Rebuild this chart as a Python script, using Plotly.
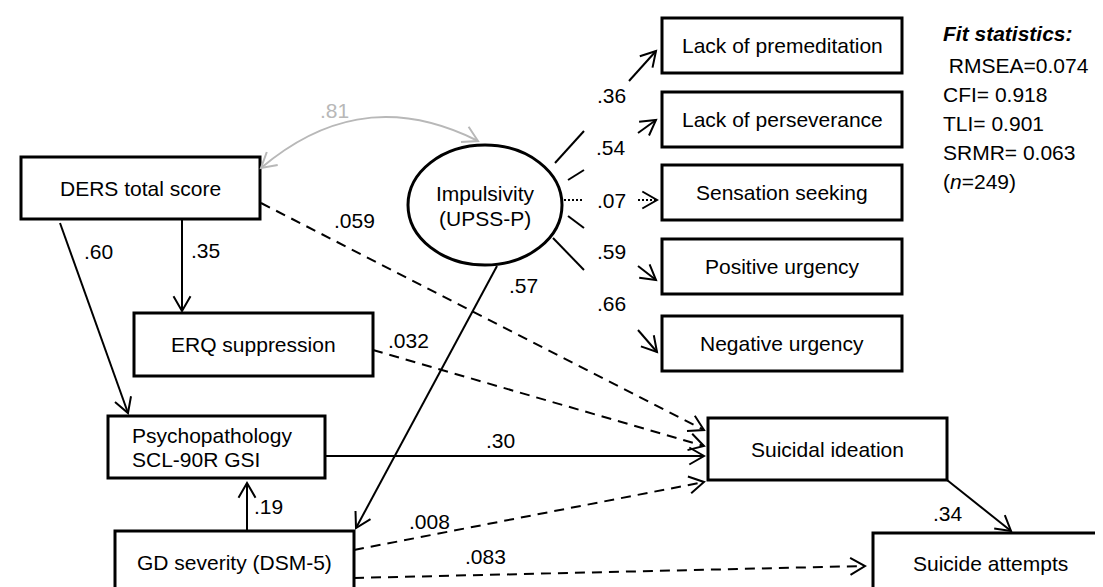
import math
import plotly.graph_objects as go

W, H = 1103, 587

# ---------------- data ----------------
observed_nodes = ["DERS total score", "ERQ suppression", "Psychopathology\nSCL-90R GSI",
                  "GD severity (DSM-5)", "Suicidal ideation", "Suicide attempts"]
latent_node = "Impulsivity\n(UPSS-P)"
indicators = ["Lack of premeditation", "Lack of perseverance", "Sensation seeking",
              "Positive urgency", "Negative urgency"]
loadings = [".36", ".54", ".07", ".59", ".66"]
loading_significant = [True, True, False, True, True]
# structural paths: (from, to, coefficient, significant)
path_from = ["DERS total score", "DERS total score", "DERS total score", "ERQ suppression",
             "Psychopathology\nSCL-90R GSI", "GD severity (DSM-5)", "Impulsivity\n(UPSS-P)",
             "GD severity (DSM-5)", "GD severity (DSM-5)", "Suicidal ideation"]
path_to = ["ERQ suppression", "Psychopathology\nSCL-90R GSI", "Suicidal ideation", "Suicidal ideation",
           "Suicidal ideation", "Psychopathology\nSCL-90R GSI", "GD severity (DSM-5)",
           "Suicidal ideation", "Suicide attempts", "Suicide attempts"]
path_coef = [".35", ".60", ".059", ".032", ".30", ".19", ".57", ".008", ".083", ".34"]
path_significant = [True, True, False, False, True, True, True, False, False, True]
correlation_coef = ".81"
fit_title = "Fit statistics:"
fit_lines = [" RMSEA=0.074", "CFI= 0.918", "TLI= 0.901", "SRMR= 0.063", "(<i>n</i>=249)"]

# ---------------- layout geometry (pixels) ----------------
box_geom = {
    "DERS total score": (13, 149, 252, 211),
    "ERQ suppression": (126, 305, 365, 368),
    "Psychopathology\nSCL-90R GSI": (100, 408, 317, 470),
    "GD severity (DSM-5)": (107, 523, 346, 585),
    "Suicidal ideation": (700, 410, 939, 472),
    "Suicide attempts": (865, 525, 1100, 585),
}
ind_x = (654, 894)
ind_y = [(10, 65), (84, 139), (157, 212), (231, 286), (308, 363)]
ellipse = (400, 137, 554, 257)

path_geom = [
    ((174, 212), (174, 303), (197, 242)),
    ((52, 215), (120, 405), (90, 243)),
    ((253, 195), (696, 422), (346, 212)),
    ((365, 342), (696, 438), (400, 332)),
    ((317, 448), (696, 448), (492, 432)),
    ((239, 522), (239, 475), (260, 498)),
    ((489, 258), (348, 520), (515, 277)),
    ((346, 542), (696, 474), (421, 513)),
    ((346, 570), (857, 558), (477, 548)),
    ((939, 472), (1003, 523), (940, 505)),
]
# loading stubs near latent variable and arrows near indicator boxes
stub_geom = [((547, 155), (576, 123)), ((560, 172), (576, 162)), ((556, 192), (576, 192)),
             ((560, 208), (576, 220)), ((545, 230), (576, 262))]
arrow_geom = [((621, 73), (648, 43)), ((630, 125), (648, 112)), ((630, 192), (649, 192)),
              ((630, 258), (648, 272)), ((630, 322), (649, 344))]
label_x = 603
label_y = [87, 139, 192, 243, 295]

FONT = "Liberation Sans, Arial, Helvetica, sans-serif"
FS = 21

shapes = []
annotations = []


def seg(p0, p1, dash="solid", color="black", width=2):
    shapes.append(dict(type="line", x0=p0[0], y0=p0[1], x1=p1[0], y1=p1[1],
                       line=dict(color=color, width=width, dash=dash), layer="above"))


def head(tip, dx, dy, color="black", L=17, ang=30):
    n = math.hypot(dx, dy)
    ux, uy = dx / n, dy / n
    pts = []
    for s in (1, -1):
        a = math.radians(ang) * s
        rx = ux * math.cos(a) - uy * math.sin(a)
        ry = ux * math.sin(a) + uy * math.cos(a)
        pts.append((tip[0] - L * rx, tip[1] - L * ry))
    shapes.append(dict(type="path",
                       path=f"M {pts[0][0]:.1f},{pts[0][1]:.1f} L {tip[0]},{tip[1]} L {pts[1][0]:.1f},{pts[1][1]:.1f}",
                       line=dict(color=color, width=2), layer="above"))


def text(x, y, s, color="black", xanchor="center", size=FS):
    annotations.append(dict(x=x, y=y, text=s, showarrow=False, xanchor=xanchor, yanchor="middle",
                            font=dict(family=FONT, size=size, color=color)))


DASH = "10px,7px"

# observed variable boxes
for name in observed_nodes:
    x0, y0, x1, y1 = box_geom[name]
    shapes.append(dict(type="rect", x0=x0, y0=y0, x1=x1, y1=y1,
                       line=dict(color="black", width=3), fillcolor="white", layer="below"))
    lines = name.split("\n")
    if len(lines) == 1:
        text((x0 + x1) / 2, (y0 + y1) / 2, lines[0])
    else:
        for i, ln in enumerate(lines):
            text(x0 + 22, (y0 + y1) / 2 - 12 + 24 * i, ln, xanchor="left")

# latent variable ellipse
ex0, ey0, ex1, ey1 = ellipse
shapes.append(dict(type="circle", x0=ex0, y0=ey0, x1=ex1, y1=ey1,
                   line=dict(color="black", width=3), fillcolor="white", layer="below"))
for i, ln in enumerate(latent_node.split("\n")):
    text((ex0 + ex1) / 2, 185 + 25 * i, ln)

# indicator boxes + loadings
for i, name in enumerate(indicators):
    y0, y1 = ind_y[i]
    shapes.append(dict(type="rect", x0=ind_x[0], y0=y0, x1=ind_x[1], y1=y1,
                       line=dict(color="black", width=3), fillcolor="white", layer="below"))
    text((ind_x[0] + ind_x[1]) / 2, (y0 + y1) / 2, name)
    dash = "solid" if loading_significant[i] else "2px,2px"
    s0, s1 = stub_geom[i]
    seg(s0, s1, dash=dash)
    a0, a1 = arrow_geom[i]
    seg(a0, a1, dash=dash)
    head(a1, a1[0] - a0[0], a1[1] - a0[1])
    text(label_x, label_y[i], loadings[i])

# structural paths
for i in range(len(path_coef)):
    p0, p1, lab = path_geom[i]
    dash = "solid" if path_significant[i] else DASH
    seg(p0, p1, dash=dash)
    head(p1, p1[0] - p0[0], p1[1] - p0[1])
    text(lab[0], lab[1], path_coef[i])

# correlation (curved, grey, double-headed)
GREY = "#b8b8b8"
P0, C1, C2, P3 = (253, 160), (310, 112), (380, 88), (470, 133)
shapes.append(dict(type="path",
                   path=f"M {P0[0]},{P0[1]} C {C1[0]},{C1[1]} {C2[0]},{C2[1]} {P3[0]},{P3[1]}",
                   line=dict(color=GREY, width=2), layer="above"))
head(P0, P0[0] - C1[0], P0[1] - C1[1], color=GREY)
head(P3, P3[0] - C2[0], P3[1] - C2[1], color=GREY)
text(326, 102, correlation_coef, color=GREY)

# fit statistics
text(933, 25, f"<b><i>{fit_title}</i></b>", xanchor="left")
for i, ln in enumerate(fit_lines):
    text(933, 57 + 29 * i, ln, xanchor="left")

fig = go.Figure()
fig.add_trace(go.Scatter(x=[0, W], y=[0, H], mode="markers", marker=dict(opacity=0),
                         hoverinfo="skip", showlegend=False))
fig.update_layout(
    width=W, height=H, autosize=False,
    margin=dict(l=0, r=0, t=0, b=0),
    paper_bgcolor="white", plot_bgcolor="white",
    xaxis=dict(range=[0, W], visible=False, fixedrange=True),
    yaxis=dict(range=[H, 0], visible=False, fixedrange=True),
    shapes=shapes, annotations=annotations, showlegend=False,
)
fig.write_html("out.html")
